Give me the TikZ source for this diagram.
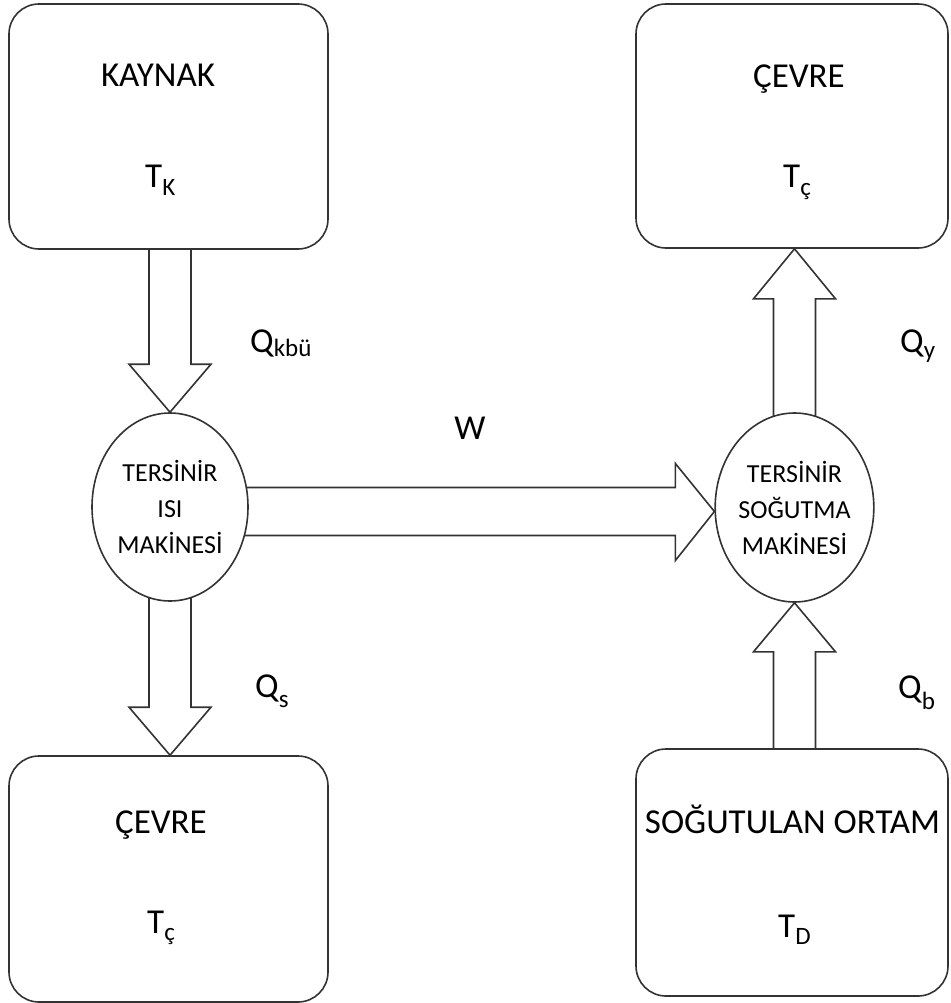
\documentclass[tikz,border=0pt]{standalone}
\usepackage{fontspec}
\setmainfont{Carlito}
\usetikzlibrary{calc,backgrounds,shapes.geometric}
\newcommand\mysub[2]{\raisebox{-#1pt}{\fontsize{25}{25}\selectfont #2}}
\begin{document}
\begin{tikzpicture}[x=1pt,y=-1pt,
  ln/.style={draw=black!80,line width=1.6pt},
  boxnode/.style={ln,rectangle,rounded corners=30pt,fill=white,inner sep=0pt},
  eng/.style={ln,ellipse,fill=white,inner sep=0pt,align=center,font=\fontsize{26}{36}\selectfont},
  lbl/.style={inner sep=0pt,font=\fontsize{35}{40}\selectfont},
  blk/.style={ln,fill=white,line join=miter}]
\useasboundingbox (0,0) rectangle (950,1003);

% boxes
\node[boxnode,minimum width=319pt,minimum height=245pt] (kaynak) at (168.5,126.5) {};
\node[boxnode,minimum width=312pt,minimum height=244pt] (cevreA) at (792,126) {};
\node[boxnode,minimum width=319pt,minimum height=246pt] (cevreB) at (168.5,879) {};
\node[boxnode,minimum width=312pt,minimum height=247pt] (ortam) at (792,872.5) {};

% engines
\node[eng,minimum width=156pt,minimum height=188pt] (isi) at (170,507) {TERSİNİR\\ISI\\MAKİNESİ};
\node[eng,minimum width=153pt,minimum height=189pt] (sog) at (794.5,507.5) {TERSİNİR\\SOĞUTMA\\MAKİNESİ};

% box texts
\node[lbl,anchor=base] (tk1) at (158,87) {KAYNAK};
\node[lbl,anchor=base west] (tk2) at (145,188) {T\mysub{7}{K}};
\node[lbl,anchor=base] (tc1) at (799,88) {ÇEVRE};
\node[lbl,anchor=base west] (tc2) at (783,188) {T\mysub{7}{ç}};
\node[lbl,anchor=base] (cb1) at (161,833) {ÇEVRE};
\node[lbl,anchor=base west] (cb2) at (147,933) {T\mysub{7}{ç}};
\node[lbl,anchor=base] (or1) at (792.5,833) {SOĞUTULAN ORTAM};
\node[lbl,anchor=base west] (or2) at (778,937) {T\mysub{7}{D}};

% flow labels
\node[lbl,anchor=base west] (qk) at (250,352) {Q\mysub{4}{kbü}};
\node[lbl,anchor=base west] (qy) at (900,352) {Q\mysub{6}{y}};
\node[lbl,anchor=base west] (qs) at (255,697) {Q\mysub{10}{s}};
\node[lbl,anchor=base west] (qb) at (898,698) {Q\mysub{11}{b}};
\node[lbl,anchor=base] (w) at (470,439) {W};

\begin{pgfonlayer}{background}
% kaynak -> isi
\draw[blk] ($(isi.north |- kaynak.south)+(-21,0)$) -- ($(isi.north)+(-21,-48)$) -- ($(isi.north)+(-41,-48)$) -- (isi.north) -- ($(isi.north)+(41,-48)$) -- ($(isi.north)+(21,-48)$) -- ($(isi.north |- kaynak.south)+(21,0)$);
% isi -> cevreB
\draw[blk] ($(isi.center)+(-21,0)$) -- ($(isi.center |- cevreB.north)+(-21,-48)$) -- ($(isi.center |- cevreB.north)+(-41,-48)$) -- (isi.center |- cevreB.north) -- ($(isi.center |- cevreB.north)+(41,-48)$) -- ($(isi.center |- cevreB.north)+(21,-48)$) -- ($(isi.center)+(21,0)$);
% sog -> cevreA
\draw[blk] ($(sog.center)+(-21,0)$) -- ($(sog.center |- cevreA.south)+(-21,50)$) -- ($(sog.center |- cevreA.south)+(-41,50)$) -- (sog.center |- cevreA.south) -- ($(sog.center |- cevreA.south)+(41,50)$) -- ($(sog.center |- cevreA.south)+(21,50)$) -- ($(sog.center)+(21,0)$);
% ortam -> sog
\draw[blk] ($(sog.center |- ortam.north)+(-21,0)$) -- ($(sog.south)+(-21,49)$) -- ($(sog.south)+(-41,49)$) -- (sog.south) -- ($(sog.south)+(41,49)$) -- ($(sog.south)+(21,49)$) -- ($(sog.center |- ortam.north)+(21,0)$);
% W : isi -> sog
\coordinate (wtip) at ($(sog.west)+(0,4)$);
\draw[blk] ($(isi.center |- wtip)+(0,-24)$) -- ($(wtip)+(-39,-24)$) -- ($(wtip)+(-39,-48)$) -- (wtip) -- ($(wtip)+(-39,49)$) -- ($(wtip)+(-39,24)$) -- ($(isi.center |- wtip)+(0,24)$);
\end{pgfonlayer}
\end{tikzpicture}
\end{document}
